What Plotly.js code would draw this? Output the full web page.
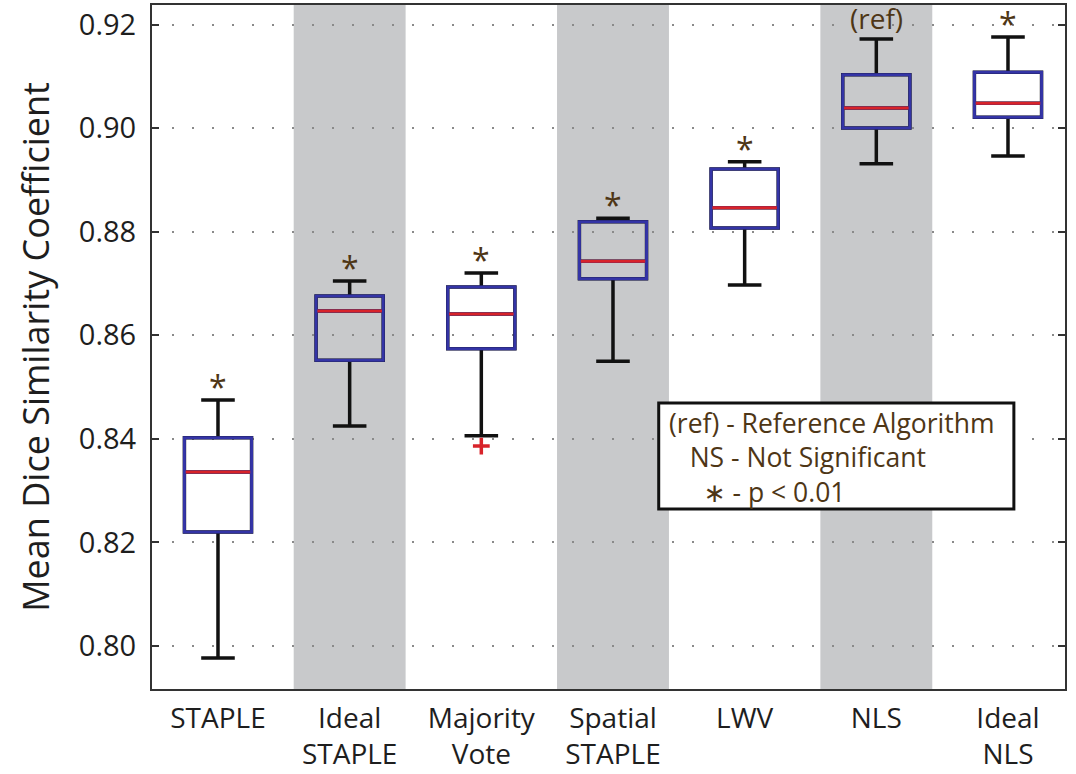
<!DOCTYPE html>
<html>
<head>
<meta charset="utf-8">
<script src="https://cdn.plot.ly/plotly-3.0.1.min.js"></script>
<style>
  html, body { margin: 0; padding: 0; background: #fff; }
  #chart { width: 1076px; height: 774px; }
</style>
</head>
<body>
<div id="chart"></div>
<script>
// Label fusion methods and their Dice summary statistics
const methods = ["STAPLE", "Ideal<br>STAPLE", "Majority<br>Vote", "Spatial<br>STAPLE", "LWV", "NLS", "Ideal<br>NLS"];
const positions = [1, 2, 3, 4, 5, 6, 7];
const lowerWhisker = [0.7977, 0.8425, 0.8406, 0.8550, 0.8697, 0.8931, 0.8946];
const q1Values     = [0.8220, 0.8552, 0.8574, 0.8709, 0.8807, 0.9000, 0.9021];
const medianValues = [0.8336, 0.8647, 0.8641, 0.8743, 0.8846, 0.9039, 0.9048];
const q3Values     = [0.8402, 0.8676, 0.8693, 0.8819, 0.8921, 0.9103, 0.9108];
const upperWhisker = [0.8475, 0.8705, 0.8720, 0.8826, 0.8935, 0.9172, 0.9176];
const significance = ["*", "*", "*", "*", "*", "(ref)", "*"];
const shadedMethods = [2, 4, 6];
const outlierX = [3];
const outlierY = [0.8386];
const legendLines = ["(ref) - Reference Algorithm", "NS - Not Significant", "\u2217 - p < 0.01"];
const legendIndent = [0, 3, 5];

const BLUE = "#3434a6", RED = "#d8232a", BROWN = "#4e3616", BAND = "#c8c9cb";
const FONT = "Open Sans, DejaVu Sans, sans-serif";
const BOX_W = 0.51;

const traces = [
  // whiskers (black) with caps
  {
    type: "box", x: positions, q1: q1Values, median: medianValues, q3: q3Values,
    lowerfence: lowerWhisker, upperfence: upperWhisker,
    width: BOX_W, whiskerwidth: 0.5, boxpoints: false,
    line: { color: "#111", width: 3.5 }, fillcolor: "rgba(0,0,0,0)",
    hoverinfo: "skip", showlegend: false
  },
  // blue interquartile box
  {
    type: "box", x: positions, q1: q1Values, median: medianValues, q3: q3Values,
    lowerfence: q1Values, upperfence: q3Values,
    width: BOX_W, whiskerwidth: 0, boxpoints: false,
    line: { color: BLUE, width: 3 }, fillcolor: "rgba(0,0,0,0)",
    hoverinfo: "skip", showlegend: false
  },
  // red median bars
  {
    type: "box", x: positions, q1: medianValues, median: medianValues, q3: medianValues,
    lowerfence: medianValues, upperfence: medianValues,
    width: BOX_W - 0.02, whiskerwidth: 0, boxpoints: false,
    line: { color: RED, width: 3 }, fillcolor: "rgba(0,0,0,0)",
    hoverinfo: "skip", showlegend: false
  },
  // outliers
  {
    type: "scatter", mode: "markers", x: outlierX, y: outlierY,
    marker: { symbol: "cross-thin", size: 12, line: { color: RED, width: 3.5 } },
    hoverinfo: "skip", showlegend: false
  }
];

const shapes = shadedMethods.map(p => ({
  type: "rect", layer: "below", xref: "x", yref: "paper",
  x0: p - 0.425, x1: p + 0.425, y0: 0, y1: 1,
  fillcolor: BAND, line: { width: 0 }
}));
// key box
shapes.push({
  type: "rect", xref: "paper", yref: "paper", layer: "above",
  x0: 0.555, x1: 0.944, y0: 0.263, y1: 0.418,
  fillcolor: "#fff", line: { color: "#111", width: 3 }
});

const annotations = positions.map((p, i) => ({
  x: p, y: upperWhisker[i], xref: "x", yref: "y",
  text: significance[i], showarrow: false,
  yanchor: "bottom", yshift: significance[i] === "*" ? -10 : 0,
  font: { family: FONT, size: significance[i] === "*" ? 32 : 28, color: BROWN }
}));
// key text, one block with indented lines
annotations.push({
  x: 0.564, y: 0.338, xref: "paper", yref: "paper",
  xanchor: "left", yanchor: "middle", align: "left", showarrow: false,
  text: legendLines.map((t, i) => "\u00a0".repeat(legendIndent[i]) + t).join("<br>"),
  font: { family: FONT, size: 26.5, color: BROWN }
});

const layout = {
  width: 1076, height: 774,
  margin: { l: 152, r: 11, t: 5, b: 85 },
  paper_bgcolor: "#fff", plot_bgcolor: "#fff",
  boxmode: "overlay",
  font: { family: FONT, color: "#1e1e1e" },
  xaxis: {
    range: [0.4988, 7.433], tickvals: positions, ticktext: methods,
    ticks: "", showgrid: false, zeroline: false,
    showline: true, linecolor: "#333", linewidth: 2, mirror: true,
    ticklabelstandoff: 3,
    tickfont: { family: FONT, size: 28, color: "#1e1e1e" }
  },
  yaxis: {
    range: [0.7917, 0.92377],
    tickvals: [0.80, 0.82, 0.84, 0.86, 0.88, 0.90, 0.92],
    ticktext: ["0.80", "0.82", "0.84", "0.86", "0.88", "0.90", "0.92"],
    ticks: "inside", ticklen: 7, tickwidth: 2, tickcolor: "#333",
    ticklabelstandoff: 8,
    showgrid: true, gridcolor: "#8a8a8a", gridwidth: 2, griddash: "2px,18px",
    zeroline: false, showline: true, linecolor: "#333", linewidth: 2, mirror: "ticks",
    tickfont: { family: FONT, size: 29, color: "#1e1e1e" },
    title: { text: "Mean Dice Similarity Coefficient", standoff: 18,
             font: { family: FONT, size: 36, color: "#1e1e1e" } }
  },
  shapes: shapes,
  annotations: annotations
};

Plotly.newPlot("chart", traces, layout, { staticPlot: true, displayModeBar: false });
</script>
</body>
</html>
